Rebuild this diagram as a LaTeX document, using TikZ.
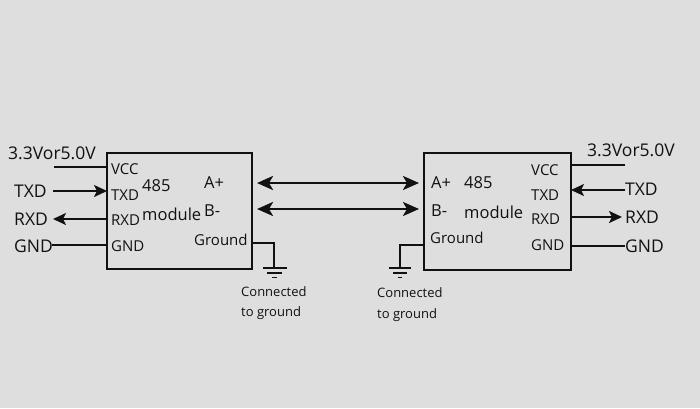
\documentclass[tikz,border=0pt]{standalone}
\usepackage{fontspec}
\setmainfont{Open Sans}
\usetikzlibrary{arrows.meta}
\definecolor{bg}{HTML}{DEDEDE}
\definecolor{ink}{HTML}{111111}
\tikzset{
  modbox/.style={draw=ink, line width=1.8pt, fill=bg},
  wire/.style={draw=ink, line width=1.9pt},
  sig/.style={draw=ink, line width=2.2pt, -{Stealth[length=13pt,width=12pt,inset=3pt]}},
  bus/.style={draw=ink, line width=2.6pt, {Stealth[length=16pt,width=14pt,inset=4pt]}-{Stealth[length=16pt,width=14pt,inset=4pt]}},
  outer/.style={font=\fontsize{17.5}{19}\selectfont, text=ink, inner sep=0pt},
  inner/.style={font=\fontsize{15}{17}\selectfont, text=ink, inner sep=0pt},
  mid/.style={font=\fontsize{16.5}{18}\selectfont, text=ink, inner sep=0pt},
  note/.style={font=\fontsize{13}{15}\selectfont, text=ink, inner sep=0pt, anchor=west},
  gndl/.style={draw=ink, line width=1.8pt},
}
\begin{document}
\begin{tikzpicture}[x=1pt,y=-1pt]
\useasboundingbox (0,0) rectangle (700,408);
\fill[bg] (0,0) rectangle (700,408);

% boxes
\draw[modbox] (107,153) rectangle (252,269);
\draw[modbox] (424,153) rectangle (571,270);

% left outer labels
\node[outer, anchor=west] (lvcc) at (8,153) {3.3Vor5.0V};
\node[outer, anchor=west] (ltxd) at (14,191) {TXD};
\node[outer, anchor=west] (lrxd) at (14,219) {RXD};
\node[outer, anchor=west] (lgnd) at (14,246) {GND};

% left inner labels
\node[inner, anchor=west] (livcc) at (111,169) {VCC};
\node[inner, anchor=west] (litxd) at (111,195) {TXD};
\node[inner, anchor=west] (lirxd) at (111,220) {RXD};
\node[inner, anchor=west] (ligna) at (111,246) {GND};
\node[mid, anchor=west] (l485) at (142,186) {485};
\node[mid, anchor=west] (lmod) at (142,214) {module};
\node[mid, anchor=west] (lap) at (204,183) {A+};
\node[mid, anchor=west] (lbm) at (204,211) {B-};
\node[inner, anchor=west] (lgr) at (194,240) {Ground};

% right inner labels
\node[mid, anchor=west] (rap) at (431,183) {A+};
\node[mid, anchor=west] (r485) at (464,183) {485};
\node[mid, anchor=west] (rbm) at (431,211) {B-};
\node[mid, anchor=west] (rmod) at (464,212) {module};
\node[inner, anchor=west] (rgr) at (430,238) {Ground};
\node[inner, anchor=west] (rivcc) at (531,170) {VCC};
\node[inner, anchor=west] (ritxd) at (531,195) {TXD};
\node[inner, anchor=west] (rirxd) at (531,219) {RXD};
\node[inner, anchor=west] (rigna) at (531,245) {GND};

% right outer labels
\node[outer, anchor=west] (rvcc) at (587,150) {3.3Vor5.0V};
\node[outer, anchor=west] (rtxd) at (625,189) {TXD};
\node[outer, anchor=west] (rrxd) at (625,217) {RXD};
\node[outer, anchor=west] (rgnd) at (625,246) {GND};

% left wires
\coordinate (lv0) at (54,167);  \coordinate (lv1) at (107,167);
\coordinate (lt0) at (53,191);  \coordinate (lt1) at (107,191);
\coordinate (lr0) at (53,219);  \coordinate (lr1) at (107,219);
\coordinate (lg0) at (52,245);  \coordinate (lg1) at (107,245);
\draw[wire] (lv0) -- (lv1);
\draw[sig] (lt0) -- (lt1);
\draw[sig] (lr1) -- (lr0);
\draw[wire] (lg0) -- (lg1);

% right wires
\coordinate (rv0) at (571,165);  \coordinate (rv1) at (625,165);
\coordinate (rt0) at (571,190);  \coordinate (rt1) at (625,190);
\coordinate (rr0) at (571,217);  \coordinate (rr1) at (622,217);
\coordinate (rg0) at (571,246);  \coordinate (rg1) at (625,246);
\draw[wire] (rv0) -- (rv1);
\draw[sig] (rt1) -- (rt0);
\draw[sig] (rr0) -- (rr1);
\draw[wire] (rg0) -- (rg1);

% bus arrows
\coordinate (ba0) at (257,183); \coordinate (ba1) at (419,183);
\coordinate (bb0) at (257,209); \coordinate (bb1) at (419,209);
\draw[bus] (ba0) -- (ba1);
\draw[bus] (bb0) -- (bb1);

% grounds
\coordinate (lgA) at (252,243); \coordinate (lgB) at (274,243); \coordinate (lgC) at (274,268);
\draw[gndl] (lgA) -- (lgB) -- (lgC);
\draw[gndl] (263,268) -- (287,268);
\draw[gndl] (267,273) -- (282,273);
\draw[gndl] (272,277.5) -- (277,277.5);

\coordinate (rgA) at (424,245); \coordinate (rgB) at (400,245); \coordinate (rgC) at (400,268);
\draw[gndl] (rgA) -- (rgB) -- (rgC);
\draw[gndl] (389,268) -- (411,268);
\draw[gndl] (393,273) -- (407,273);
\draw[gndl] (398,277.5) -- (402,277.5);

% notes
\node[note] (ln1) at (241,292) {Connected};
\node[note] (ln2) at (241,313) {to ground};
\node[note] (rn1) at (377,293) {Connected};
\node[note] (rn2) at (377,315) {to ground};
\end{tikzpicture}
\end{document}
